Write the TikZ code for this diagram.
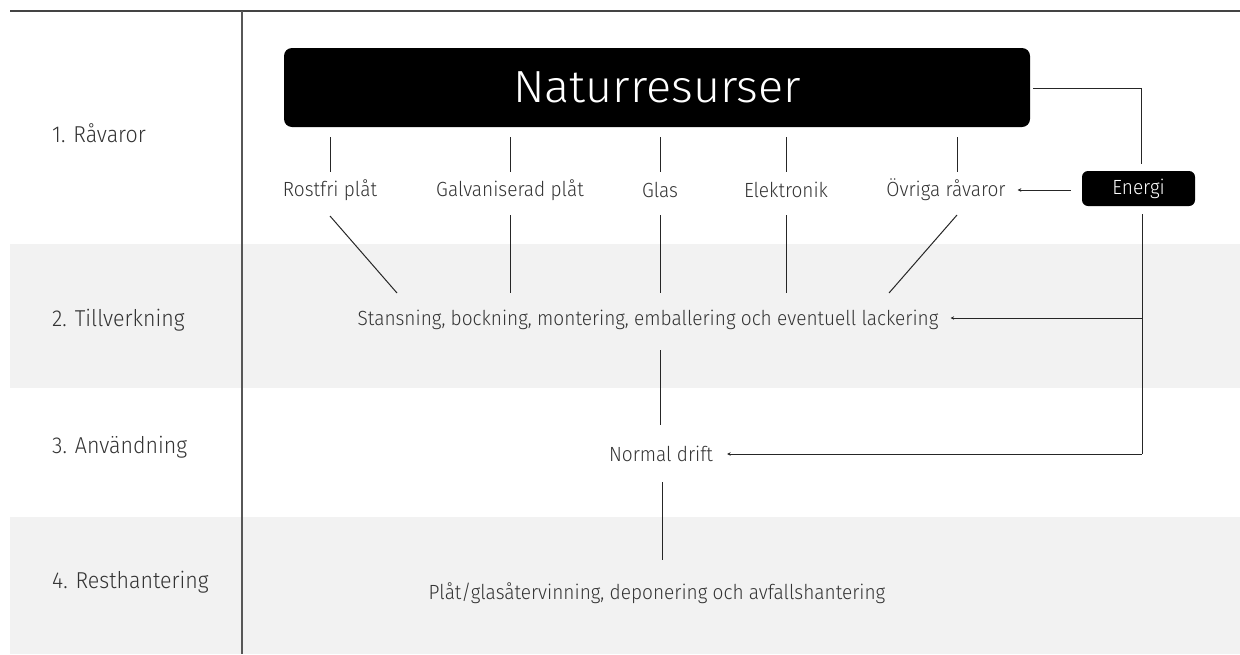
\documentclass[tikz,border=0pt]{standalone}
\usepackage{fontspec}
\setmainfont{Fira Sans Light}[FakeStretch=0.93]
\newfontfamily\bigfont{Fira Sans Light}[FakeStretch=1.04]
\usetikzlibrary{arrows.meta,calc}
\definecolor{txt}{HTML}{333333}
\definecolor{band}{HTML}{F2F2F2}
\definecolor{rule}{HTML}{444444}
\tikzset{
  ln/.style={draw=black!85, line width=1pt},
  arr/.style={ln, -{Stealth[length=3.5pt,width=3.5pt]}},
  item/.style={inner sep=0pt, text=txt, font=\fontsize{20.5}{24}\selectfont},
  stage/.style={inner sep=0pt, anchor=west, text=txt, font=\fontsize{23}{27}\selectfont},
  blackbox/.style={fill=black, text=white, inner sep=0pt}
}
\begin{document}
\begin{tikzpicture}[x=1pt,y=-1pt]
\useasboundingbox (0,0) rectangle (1240,654);
% bands
\fill[band] (10,244) rectangle (1240,388);
\fill[band] (10,517) rectangle (1240,654);
% frame lines
\draw[rule, line width=2pt] (10,11) -- (1240,11);
\draw[rule!90, line width=1.3pt] (242,11) -- (242,654);
% stage labels
\node[stage] (s1) at (52,133) {1. Råvaror};
\node[stage] (s2) at (52,320) {2. Tillverkning};
\node[stage] (s3) at (52,447) {3. Användning};
\node[stage] (s4) at (52,582) {4. Resthantering};
% main boxes
\node[blackbox, rounded corners=8pt, minimum width=746pt, minimum height=79pt,
      font=\bigfont\fontsize{45}{50}\selectfont] (nat) at (657,87.5) {Naturresurser};
\node[blackbox, rounded corners=6pt, minimum width=113pt, minimum height=35pt,
      font=\fontsize{20.5}{24}\selectfont] (en) at (1138.5,188.5) {Energi};
% raw materials
\node[item] (rost) at (330,190) {Rostfri plåt};
\node[item] (galv) at (510,190) {Galvaniserad plåt};
\node[item] (glas) at (660,190) {Glas};
\node[item] (elek) at (786,190) {Elektronik};
\node[item] (ovr) at (946,190) {Övriga råvaror};
\coordinate (ovrx) at (957,190);
% processes
\node[item] (stans) at (648,320) {Stansning, bockning, montering, emballering och eventuell lackering};
\node[item] (drift) at (661,454) {Normal drift};
\node[item] (rest) at (657,593) {Plåt/glasåtervinning, deponering och avfallshantering};
% connectors: natural resources to materials
\foreach \n in {rost,galv,glas,elek,ovrx}{
  \draw[ln] ($(\n)+(0,-53)$) -- ($(\n)+(0,-18)$);
}
% materials to manufacturing
\draw[ln] ($(rost)+(0,26)$) -- ($(stans)+(-251,-27)$);
\draw[ln] ($(galv)+(0,25)$) -- ($(galv)+(0,103)$);
\draw[ln] ($(glas)+(0,25)$) -- ($(glas)+(0,103)$);
\draw[ln] ($(elek)+(0,25)$) -- ($(elek)+(0,103)$);
\draw[ln] ($(ovrx)+(0,25)$) -- ($(stans)+(241,-27)$);
% process chain
\draw[ln] ($(stans)+(12,30)$) -- ($(drift)+(-1,-29)$);
\draw[ln] ($(drift)+(1,28)$) -- ($(rest)+(5,-33)$);
% energy
\coordinate (ecorner) at (1141,88);
\draw[ln] ($(nat.east)+(3,0.5)$) -- (ecorner) -- ($(en.north)+(2.5,-7)$);
\draw[arr] ($(en.west)+(-11,1.5)$) -- ($(ovr.east)+(12,0)$);
\coordinate (ejoin) at (1142,318);
\coordinate (ecorner2) at (1142,454);
\draw[ln] ($(en.south)+(3.5,8)$) -- (ejoin) -- (ecorner2);
\draw[arr] (ejoin) -- ($(stans.east)+(12,-2)$);
\draw[arr] (ecorner2) -- ($(drift.east)+(14,0)$);
\end{tikzpicture}
\end{document}
